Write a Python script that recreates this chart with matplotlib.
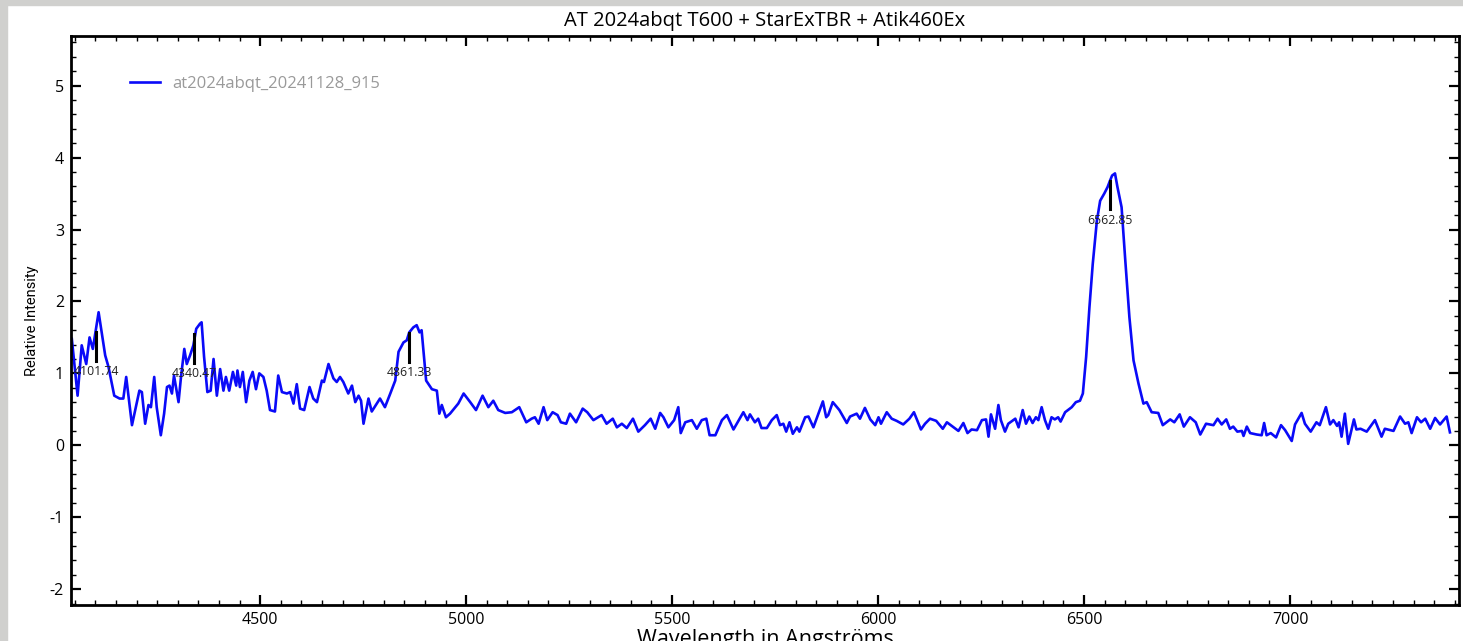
import matplotlib
matplotlib.use("Agg")
import matplotlib.pyplot as plt
from matplotlib.patches import Rectangle
from matplotlib.ticker import MultipleLocator

plt.rcParams['font.family'] = ['Open Sans', 'DejaVu Sans']
plt.rcParams['axes.unicode_minus'] = False

# Spectrum of AT 2024abqt (wavelength in Angstroms, relative intensity)
wavelength = [
    4043, 4057, 4067, 4078, 4086, 4094, 4108, 4124, 4132, 4146, 4159, 4168,
    4175, 4189, 4207, 4213, 4221, 4229, 4235, 4243, 4249, 4259, 4267, 4274,
    4280, 4286, 4291, 4302, 4308, 4316, 4322, 4330, 4338, 4345, 4354, 4358,
    4364, 4372, 4380, 4387, 4395, 4403, 4411, 4417, 4425, 4434, 4442, 4445,
    4451, 4458, 4466, 4474, 4482, 4490, 4498, 4508, 4516, 4524, 4536, 4544,
    4553, 4565, 4573, 4581, 4589, 4597, 4607, 4620, 4629, 4638, 4650, 4655,
    4666, 4678, 4686, 4694, 4702, 4714, 4723, 4731, 4739, 4745, 4751, 4763,
    4771, 4791, 4803, 4816, 4828, 4836, 4848, 4856, 4862, 4872, 4880, 4887,
    4892, 4903, 4917, 4929, 4935, 4941, 4951, 4961, 4981, 4994,
    5010, 5024, 5040, 5054, 5066, 5078, 5095, 5111, 5129, 5146, 5159, 5167,
    5176, 5188, 5197, 5210, 5222, 5230, 5243, 5252, 5267, 5283, 5294, 5309,
    5329, 5341, 5356, 5366, 5378, 5390, 5405, 5418, 5434, 5448, 5459, 5471,
    5479, 5491, 5505, 5515, 5521, 5532, 5548, 5560, 5572, 5583, 5591, 5605,
    5621, 5633, 5649, 5673, 5683, 5689, 5701,
    5709, 5717, 5730, 5742, 5754, 5762, 5770, 5777, 5785, 5793, 5803, 5809,
    5823, 5831, 5843, 5855, 5866, 5874, 5879, 5890, 5906, 5924, 5932, 5948,
    5956, 5968, 5981, 5993, 6001, 6007, 6021, 6033, 6045, 6061, 6076, 6087,
    6104, 6114, 6126, 6141, 6157, 6167, 6181, 6195, 6207, 6217, 6227, 6240,
    6252, 6262, 6268, 6274, 6284, 6292, 6298, 6308,
    6316, 6333, 6341, 6351, 6359, 6367, 6375, 6383, 6389, 6397, 6405, 6413,
    6421, 6429, 6437, 6443, 6454, 6470, 6480, 6490, 6497, 6505, 6513, 6521,
    6531, 6539, 6549, 6557, 6563, 6568, 6575, 6581, 6591, 6600, 6610, 6620,
    6632, 6644, 6652,
    6664, 6680, 6691, 6709, 6719, 6732, 6742, 6757, 6771, 6782, 6796, 6814,
    6824, 6834, 6845, 6854, 6862, 6872, 6883, 6887, 6895, 6903, 6919, 6931,
    6937, 6943, 6953, 6966, 6978, 6988, 7004, 7012, 7028, 7036, 7050, 7064,
    7072, 7087, 7097, 7105, 7114, 7119, 7125, 7133, 7141, 7155, 7161, 7171,
    7186, 7206, 7222, 7230, 7251, 7267, 7279, 7287, 7295, 7308, 7318, 7328,
    7340, 7352, 7364, 7380, 7388,
]
intensity = [
    1.48, 0.69, 1.39, 1.13, 1.50, 1.34, 1.85, 1.25, 1.09, 0.69, 0.65, 0.65,
    0.95, 0.28, 0.76, 0.74, 0.30, 0.56, 0.53, 0.95, 0.53, 0.14, 0.44, 0.81,
    0.83, 0.72, 0.97, 0.60, 0.95, 1.34, 1.13, 1.25, 1.39, 1.62, 1.69, 1.71,
    1.23, 0.74, 0.76, 1.20, 0.69, 1.06, 0.76, 0.95, 0.76, 1.02, 0.83, 1.04,
    0.81, 1.02, 0.60, 0.90, 1.02, 0.78, 1.00, 0.95, 0.76, 0.49, 0.47, 0.97,
    0.74, 0.72, 0.74, 0.58, 0.85, 0.51, 0.49, 0.81, 0.65, 0.60, 0.90, 0.88,
    1.13, 0.93, 0.88, 0.95, 0.88, 0.72, 0.83, 0.60, 0.69, 0.62, 0.30, 0.65,
    0.47, 0.65, 0.53, 0.72, 0.90, 1.30, 1.43, 1.46, 1.57, 1.64, 1.67, 1.57,
    1.60, 0.90, 0.78, 0.76, 0.44, 0.56, 0.39, 0.44, 0.58, 0.72,
    0.60, 0.49, 0.69, 0.53, 0.62, 0.49, 0.45, 0.46, 0.53, 0.32, 0.37, 0.39,
    0.30, 0.53, 0.35, 0.46, 0.42, 0.32, 0.30, 0.44, 0.32, 0.51, 0.46, 0.35,
    0.42, 0.30, 0.37, 0.25, 0.30, 0.24, 0.37, 0.19, 0.28, 0.37, 0.23, 0.45,
    0.39, 0.25, 0.35, 0.53, 0.17, 0.32, 0.35, 0.23, 0.35, 0.37, 0.14, 0.14,
    0.35, 0.42, 0.22, 0.46, 0.35, 0.43, 0.32,
    0.37, 0.24, 0.24, 0.35, 0.42, 0.28, 0.30, 0.19, 0.32, 0.16, 0.25, 0.19,
    0.39, 0.40, 0.25, 0.44, 0.61, 0.39, 0.42, 0.60, 0.49, 0.31, 0.40, 0.44,
    0.37, 0.52, 0.36, 0.28, 0.39, 0.30, 0.46, 0.37, 0.34, 0.29, 0.37, 0.46,
    0.22, 0.30, 0.37, 0.34, 0.23, 0.32, 0.26, 0.20, 0.31, 0.17, 0.22, 0.21,
    0.35, 0.36, 0.12, 0.43, 0.23, 0.56, 0.35, 0.19,
    0.30, 0.37, 0.25, 0.49, 0.30, 0.40, 0.31, 0.39, 0.35, 0.53, 0.35, 0.23,
    0.39, 0.36, 0.39, 0.33, 0.46, 0.53, 0.60, 0.62, 0.72, 1.23, 1.92, 2.52,
    3.12, 3.40, 3.50, 3.59, 3.68, 3.75, 3.78, 3.59, 3.31, 2.57, 1.78, 1.18,
    0.86, 0.58, 0.60,
    0.46, 0.45, 0.28, 0.36, 0.32, 0.43, 0.26, 0.39, 0.32, 0.15, 0.30, 0.28,
    0.37, 0.29, 0.36, 0.23, 0.26, 0.19, 0.20, 0.13, 0.26, 0.17, 0.15, 0.14,
    0.31, 0.14, 0.17, 0.11, 0.28, 0.21, 0.06, 0.29, 0.45, 0.30, 0.19, 0.32,
    0.28, 0.53, 0.29, 0.35, 0.27, 0.32, 0.12, 0.44, 0.02, 0.36, 0.22, 0.23,
    0.19, 0.35, 0.12, 0.23, 0.20, 0.40, 0.30, 0.32, 0.17, 0.39, 0.32, 0.37,
    0.23, 0.38, 0.29, 0.40, 0.18,
]

# Identified lines: rest wavelength and top of the marker
line_wl = [4101.74, 4340.47, 4861.33, 6562.85]
line_top = [1.57, 1.55, 1.56, 3.68]
marker_len = 0.40

fig = plt.figure(figsize=(14.63, 6.41), dpi=100)
fig.patch.set_facecolor('white')
# grey frame along the left and top edges
fig.patches.append(Rectangle((0, 0), 7 / 1463, 1, transform=fig.transFigure,
                             color='#d0d0ce', zorder=-1))
fig.patches.append(Rectangle((0, 1 - 5 / 641), 1, 5 / 641,
                             transform=fig.transFigure, color='#d0d0ce',
                             zorder=-1))

ax = fig.add_axes([71 / 1463, 36 / 641, (1459 - 71) / 1463, (605 - 36) / 641])

ax.plot(wavelength, intensity, color='#0a0af8', lw=1.9,
        label='at2024abqt_20241128_915')

for wl, top in zip(line_wl, line_top):
    ax.plot([wl, wl], [top - marker_len, top], color='black', lw=2.2)
    ax.text(wl, top - marker_len - 0.15, f'{wl:.2f}', ha='center', va='center',
            fontsize=8.8, color='#222222')

ax.set_xlim(4041, 7410)
ax.set_ylim(-2.22, 5.69)

ax.xaxis.set_major_locator(MultipleLocator(500))
ax.xaxis.set_minor_locator(MultipleLocator(50))
ax.yaxis.set_major_locator(MultipleLocator(1))
ax.yaxis.set_minor_locator(MultipleLocator(0.2))

ax.tick_params(which='both', direction='in', top=True, right=True,
               labelsize=11.5, colors='black')
ax.tick_params(which='major', length=7, width=1.6, pad=5)
ax.tick_params(which='minor', length=3.5, width=1.0)
for s in ax.spines.values():
    s.set_linewidth(2.0)

ax.set_title('AT 2024abqt T600 + StarExTBR + Atik460Ex', fontsize=14.5, pad=7)
ax.set_xlabel('Wavelength in Angströms', fontsize=15.5, labelpad=1)
ax.set_ylabel('Relative Intensity', fontsize=10.5, labelpad=8,
              family=['Liberation Sans Narrow', 'Roboto', 'DejaVu Sans'])

leg = ax.legend(loc='upper left', bbox_to_anchor=(0.0425, 0.93),
                frameon=False, borderpad=0, borderaxespad=0,
                handlelength=1.8, handletextpad=0.72, fontsize=12)
for t in leg.get_texts():
    t.set_color('#9a9a9a')

fig.savefig('out.png', dpi=100)
